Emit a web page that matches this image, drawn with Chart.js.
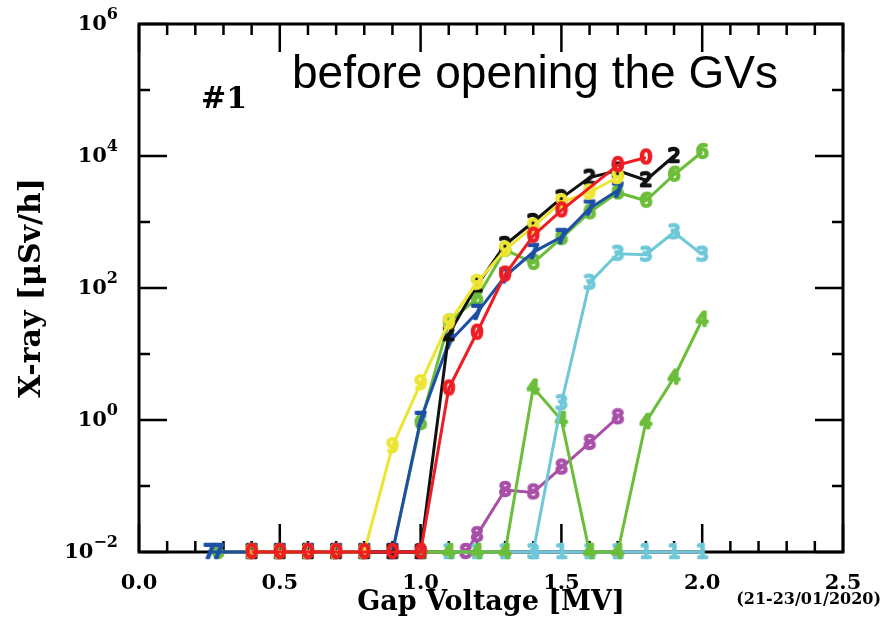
<!DOCTYPE html>
<html>
<head>
<meta charset="utf-8">
<script src="https://cdn.jsdelivr.net/npm/chart.js@4.4.1/dist/chart.umd.min.js"></script>
<style>
  html, body { margin: 0; padding: 0; background: #fff; }
  #wrap { width: 883px; height: 625px; }
</style>
</head>
<body>
<div id="wrap"><canvas id="chart" width="883" height="625"></canvas></div>
<script>
// gap voltage [MV] and x-ray [uSv/h] per cavity
const x_c0 = [0.4, 0.5, 0.6, 0.7, 0.8, 0.9, 1.0, 1.1, 1.2, 1.3, 1.4, 1.5, 1.7, 1.8];
const y_c0 = [0.01, 0.01, 0.01, 0.01, 0.01, 0.01, 0.01, 3.0, 21, 160, 620, 1500, 7300, 9500];

const x_c1 = [1.1, 1.2, 1.3, 1.4, 1.5, 1.6, 1.7, 1.8, 1.9, 2.0];
const y_c1 = [0.01, 0.01, 0.01, 0.01, 0.01, 0.01, 0.01, 0.01, 0.01, 0.01];

const x_c2 = [0.4, 0.5, 0.6, 0.7, 0.8, 0.9, 1.0, 1.1, 1.2, 1.3, 1.4, 1.5, 1.6, 1.7, 1.8, 1.9];
const y_c2 = [0.01, 0.01, 0.01, 0.01, 0.01, 0.01, 0.01, 20, 110, 450, 1000, 2300, 4700, 6000, 4300, 10000];

const x_c3 = [1.4, 1.5, 1.6, 1.7, 1.8, 1.9, 2.0];
const y_c3 = [0.01, 1.8, 120, 330, 320, 700, 320];

const x_c4 = [1.0, 1.1, 1.2, 1.3, 1.4, 1.5, 1.6, 1.7, 1.8, 1.9, 2.0];
const y_c4 = [0.01, 0.01, 0.01, 0.01, 3.1, 1.0, 0.01, 0.01, 0.93, 4.4, 33];

const x_c6 = [0.28, 0.4, 0.5, 0.6, 0.7, 0.8, 0.9, 1.0, 1.1, 1.2, 1.3, 1.4, 1.5, 1.6, 1.7, 1.8, 1.9, 2.0];
const y_c6 = [0.01, 0.01, 0.01, 0.01, 0.01, 0.01, 0.01, 0.9, 30, 70, 380, 240, 570, 1400, 2800, 2100, 5200, 11500];

const x_c7 = [0.25, 0.28, 0.4, 0.5, 0.6, 0.7, 0.8, 0.9, 1.0, 1.1, 1.2, 1.3, 1.4, 1.5, 1.6, 1.7];
const y_c7 = [0.01, 0.01, 0.01, 0.01, 0.01, 0.01, 0.01, 0.01, 1.0, 15, 42, 150, 350, 590, 1600, 3000];

const x_c8 = [1.16, 1.2, 1.3, 1.4, 1.5, 1.6, 1.7];
const y_c8 = [0.01, 0.018, 0.087, 0.08, 0.19, 0.45, 1.1];

const x_c9 = [0.4, 0.5, 0.6, 0.7, 0.8, 0.9, 1.0, 1.1, 1.2, 1.3, 1.4, 1.5, 1.6, 1.7];
const y_c9 = [0.01, 0.01, 0.01, 0.01, 0.01, 0.4, 3.6, 30, 120, 380, 850, 2000, 2800, 4800];

const xMajor = [0, 0.5, 1.0, 1.5, 2.0, 2.5];
const xMinor = [0.1, 0.2, 0.3, 0.4, 0.6, 0.7, 0.8, 0.9, 1.1, 1.2, 1.3, 1.4, 1.6, 1.7, 1.8, 1.9, 2.1, 2.2, 2.3, 2.4];
const yMajorExp = [-2, 0, 2, 4, 6];
const yMinorExp = [-1, 1, 3, 5];

const SERIF = '"DejaVu Serif", serif';

// draw the cavity number as an outlined digit, used as the point marker
const digitMarker = (digit, color) => {
    const c = document.createElement('canvas');
    c.width = 24;
    c.height = 26;
    const g = c.getContext('2d');
    g.font = '20px "DejaVu Sans"';
    g.textAlign = 'center';
    g.textBaseline = 'middle';
    g.lineJoin = 'round';
    g.lineWidth = 2.5;
    g.strokeStyle = color;
    g.strokeText(digit, 12, 14);
    return c;
};

const series = (label, xs, ys, color) => ({
    label: label,
    data: xs.map((v, i) => ({ x: v, y: ys[i] })),
    borderColor: color,
    borderWidth: 3,
    pointStyle: digitMarker(label, color),
    pointRadius: 8,
    clip: false,
    tension: 0
});

// first dataset ends up on top
const datasets = [
    series('0', x_c0, y_c0, '#ee1d24'),
    series('3', x_c3, y_c3, '#6ec8d8'),
    series('4', x_c4, y_c4, '#6cbd3a'),
    series('1', x_c1, y_c1, '#6ec8d8'),
    series('8', x_c8, y_c8, '#a84fa8'),
    series('9', x_c9, y_c9, '#ede533'),
    series('2', x_c2, y_c2, '#111111'),
    series('7', x_c7, y_c7, '#1d4fa6'),
    series('6', x_c6, y_c6, '#6cbd3a')
];

const framePlugin = {
    id: 'frame',
    beforeDatasetsDraw(chart) {
        const { ctx, chartArea: a, scales: { x, y } } = chart;
        ctx.save();
        ctx.strokeStyle = '#000';
        ctx.lineWidth = 3;
        ctx.strokeRect(a.left, a.top, a.right - a.left, a.bottom - a.top);
        ctx.lineWidth = 2.5;
        const vTick = (v, len) => {
            const px = x.getPixelForValue(v);
            ctx.beginPath();
            ctx.moveTo(px, a.bottom); ctx.lineTo(px, a.bottom - len);
            ctx.moveTo(px, a.top); ctx.lineTo(px, a.top + len);
            ctx.stroke();
        };
        const hTick = (e, len) => {
            const py = y.getPixelForValue(Math.pow(10, e));
            ctx.beginPath();
            ctx.moveTo(a.left, py); ctx.lineTo(a.left + len, py);
            ctx.moveTo(a.right, py); ctx.lineTo(a.right - len, py);
            ctx.stroke();
        };
        xMajor.forEach(v => vTick(v, 28));
        xMinor.forEach(v => vTick(v, 11));
        yMajorExp.forEach(e => hTick(e, 28));
        yMinorExp.forEach(e => hTick(e, 11));
        ctx.restore();
    },
    afterDraw(chart) {
        const { ctx, scales: { y } } = chart;
        ctx.save();
        ctx.fillStyle = '#000';
        // y tick labels as 10 with a raised exponent
        yMajorExp.forEach(e => {
            const py = y.getPixelForValue(Math.pow(10, e));
            const exp = e < 0 ? '\u2212' + Math.abs(e) : String(e);
            ctx.font = 'bold 16px ' + SERIF;
            const wE = ctx.measureText(exp).width;
            ctx.textBaseline = 'middle';
            ctx.textAlign = 'left';
            ctx.fillText(exp, 118 - wE, py - 9);
            ctx.font = 'bold 21px ' + SERIF;
            ctx.textAlign = 'right';
            ctx.fillText('10', 118 - wE, py + 1);
        });
        ctx.textAlign = 'left';
        ctx.textBaseline = 'alphabetic';
        ctx.font = 'bold 30px ' + SERIF;
        ctx.fillText('#1', 201, 108);
        ctx.font = '46px "Liberation Sans", Arial, sans-serif';
        ctx.fillText('before opening the GVs', 292, 88);
        ctx.font = 'bold 16px ' + SERIF;
        ctx.textAlign = 'right';
        ctx.textBaseline = 'middle';
        ctx.fillText('(21-23/01/2020)', 881, 600);
        ctx.restore();
    }
};

document.addEventListener('DOMContentLoaded', () => {
    const ctx = document.getElementById('chart').getContext('2d');
    new Chart(ctx, {
        type: 'line',
        data: { datasets: datasets },
        options: {
            responsive: false,
            animation: false,
            layout: { padding: { top: 24, right: 40, left: 0, bottom: 0 } },
            plugins: {
                legend: { display: false },
                tooltip: { enabled: false }
            },
            scales: {
                x: {
                    type: 'linear',
                    min: 0,
                    max: 2.5,
                    grid: { display: false },
                    border: { display: false },
                    ticks: {
                        stepSize: 0.5,
                        autoSkip: false,
                        maxRotation: 0,
                        padding: 11,
                        color: '#000',
                        font: { family: SERIF, weight: 'bold', size: 21 },
                        callback: v => v.toFixed(1)
                    },
                    title: {
                        display: true,
                        text: 'Gap Voltage [MV]',
                        color: '#000',
                        font: { family: SERIF, weight: 'bold', size: 27 },
                        padding: { top: 0, bottom: 6 }
                    },
                    afterFit: s => { s.height = 73; }
                },
                y: {
                    type: 'logarithmic',
                    min: 0.01,
                    max: 1e6,
                    grid: { display: false },
                    border: { display: false },
                    ticks: { display: false },
                    title: {
                        display: true,
                        text: 'X-ray [\u03BCSv/h]',
                        color: '#000',
                        font: { family: SERIF, weight: 'bold', size: 30 },
                        padding: { top: 14, bottom: 0 }
                    },
                    afterFit: s => { s.width = 139; }
                }
            }
        },
        plugins: [framePlugin]
    });
});
</script>
</body>
</html>
